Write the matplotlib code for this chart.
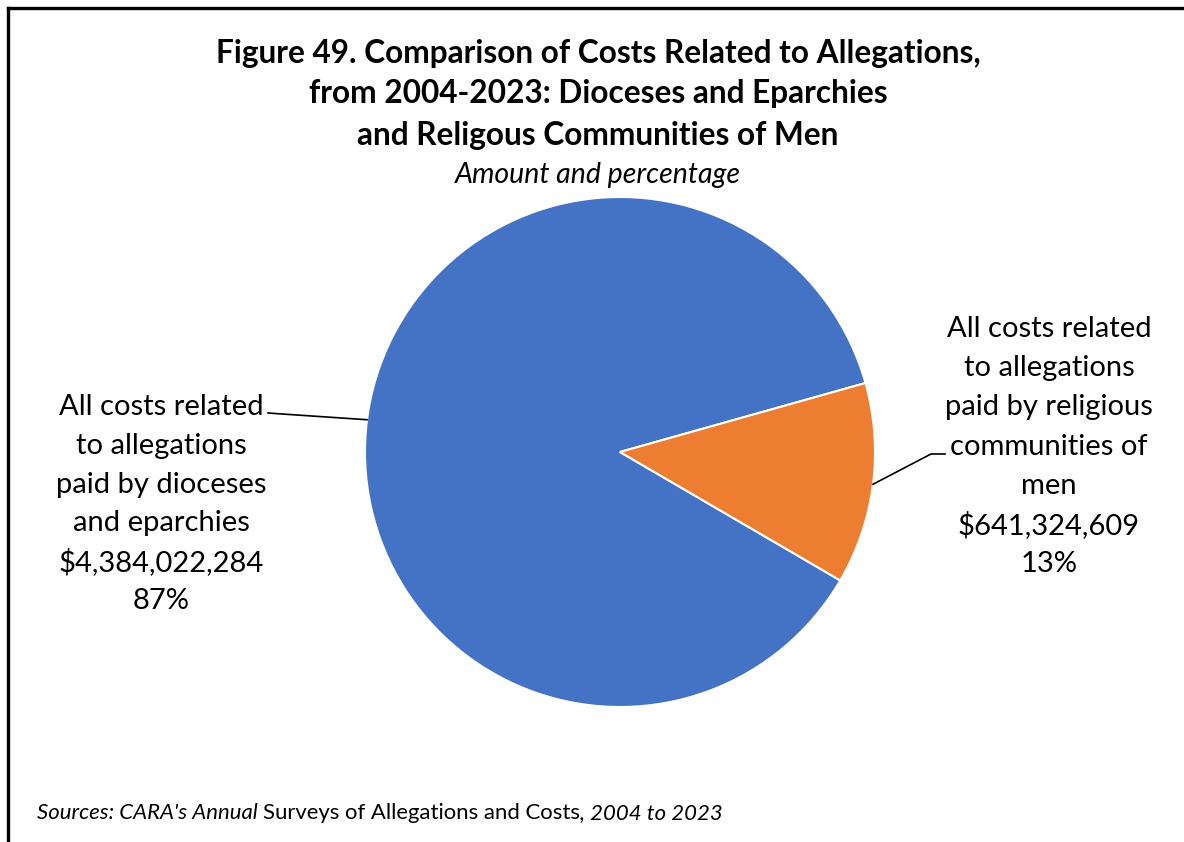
import matplotlib
matplotlib.use("Agg")
import matplotlib.pyplot as plt
import numpy as np

# Data
categories = [
    "All costs related\nto allegations\npaid by dioceses\nand eparchies",
    "All costs related\nto allegations\npaid by religious\ncommunities of\nmen",
]
amounts = [4384022284, 641324609]
colors = ["#4472C4", "#ED7D31"]

title_lines = [
    "Figure 49. Comparison of Costs Related to Allegations,",
    "from 2004-2023: Dioceses and Eparchies",
    "and Religous Communities of Men",
]
subtitle = "Amount and percentage"

W, H = 1184, 842
FONT = "Lato"

fig = plt.figure(figsize=(W / 100, H / 100), dpi=100)
fig.patch.set_facecolor("white")


def fx(x):
    return x / W


def fy(y):
    return 1 - y / H


# Frame (top and left edges)
fig.add_artist(plt.Line2D([fx(8), fx(8)], [fy(8), fy(H + 5)], color="black", lw=2.4,
                          transform=fig.transFigure, solid_capstyle="projecting"))
fig.add_artist(plt.Line2D([fx(8), fx(W + 5)], [fy(8), fy(8)], color="black", lw=2.4,
                          transform=fig.transFigure, solid_capstyle="projecting"))

# Title block
for i, line in enumerate(title_lines):
    fig.text(fx(598), fy(53 + i * 41), line, ha="center", va="center",
             fontsize=22.8, fontweight="bold", family=FONT)
fig.text(fx(598), fy(175), subtitle, ha="center", va="center",
         fontsize=20.5, style="italic", family=FONT)

# Pie
cx, cy, r = 620, 452, 255
ax = fig.add_axes([fx(cx - r), fy(cy + r), 2 * r / W, 2 * r / H])
total = sum(amounts)
start = 15.7
wedges, _ = ax.pie(amounts, colors=colors, startangle=start, counterclock=True,
                   radius=1.0, wedgeprops=dict(edgecolor="white", linewidth=1.5))
ax.set_xlim(-1, 1)
ax.set_ylim(-1, 1)
ax.set_aspect("equal")
ax.axis("off")

# Data labels
label_specs = [
    dict(x=161, y0=407, dy=38.8, elbow=(282, 414), tail=(268, 413)),
    dict(x=1049, y0=329, dy=39.2, elbow=(931, 454), tail=(945, 454)),
]
for wedge, cat, amt, spec in zip(wedges, categories, amounts, label_specs):
    pct = 100 * amt / total
    lines = cat.split("\n") + [f"${amt:,.0f}", f"{pct:.0f}%"]
    for i, line in enumerate(lines):
        fig.text(fx(spec["x"]), fy(spec["y0"] + i * spec["dy"]), line,
                 ha="center", va="center", fontsize=21, family=FONT)
    mid = np.deg2rad((wedge.theta1 + wedge.theta2) / 2)
    px = cx + r * np.cos(mid)
    py = cy - r * np.sin(mid)
    xs = [px, spec["elbow"][0], spec["tail"][0]]
    ys = [py, spec["elbow"][1], spec["tail"][1]]
    fig.add_artist(plt.Line2D([fx(v) for v in xs], [fy(v) for v in ys],
                              color="black", lw=1.2, transform=fig.transFigure))

# Source note
src = fig.text(fx(37), fy(813), "Sources: CARA's Annual ", ha="left", va="center",
               fontsize=15.9, style="italic", family=FONT)
fig.canvas.draw()
bb = src.get_window_extent()
t2 = fig.text(bb.x1 / W, fy(813), "Surveys of Allegations and Costs", ha="left", va="center",
              fontsize=15.9, family=FONT)
bb2 = t2.get_window_extent()
fig.text(bb2.x1 / W, fy(813), ", 2004 to 2023", ha="left", va="center",
         fontsize=15.9, style="italic", family=FONT)

fig.savefig("out.png", dpi=100, facecolor="white")
